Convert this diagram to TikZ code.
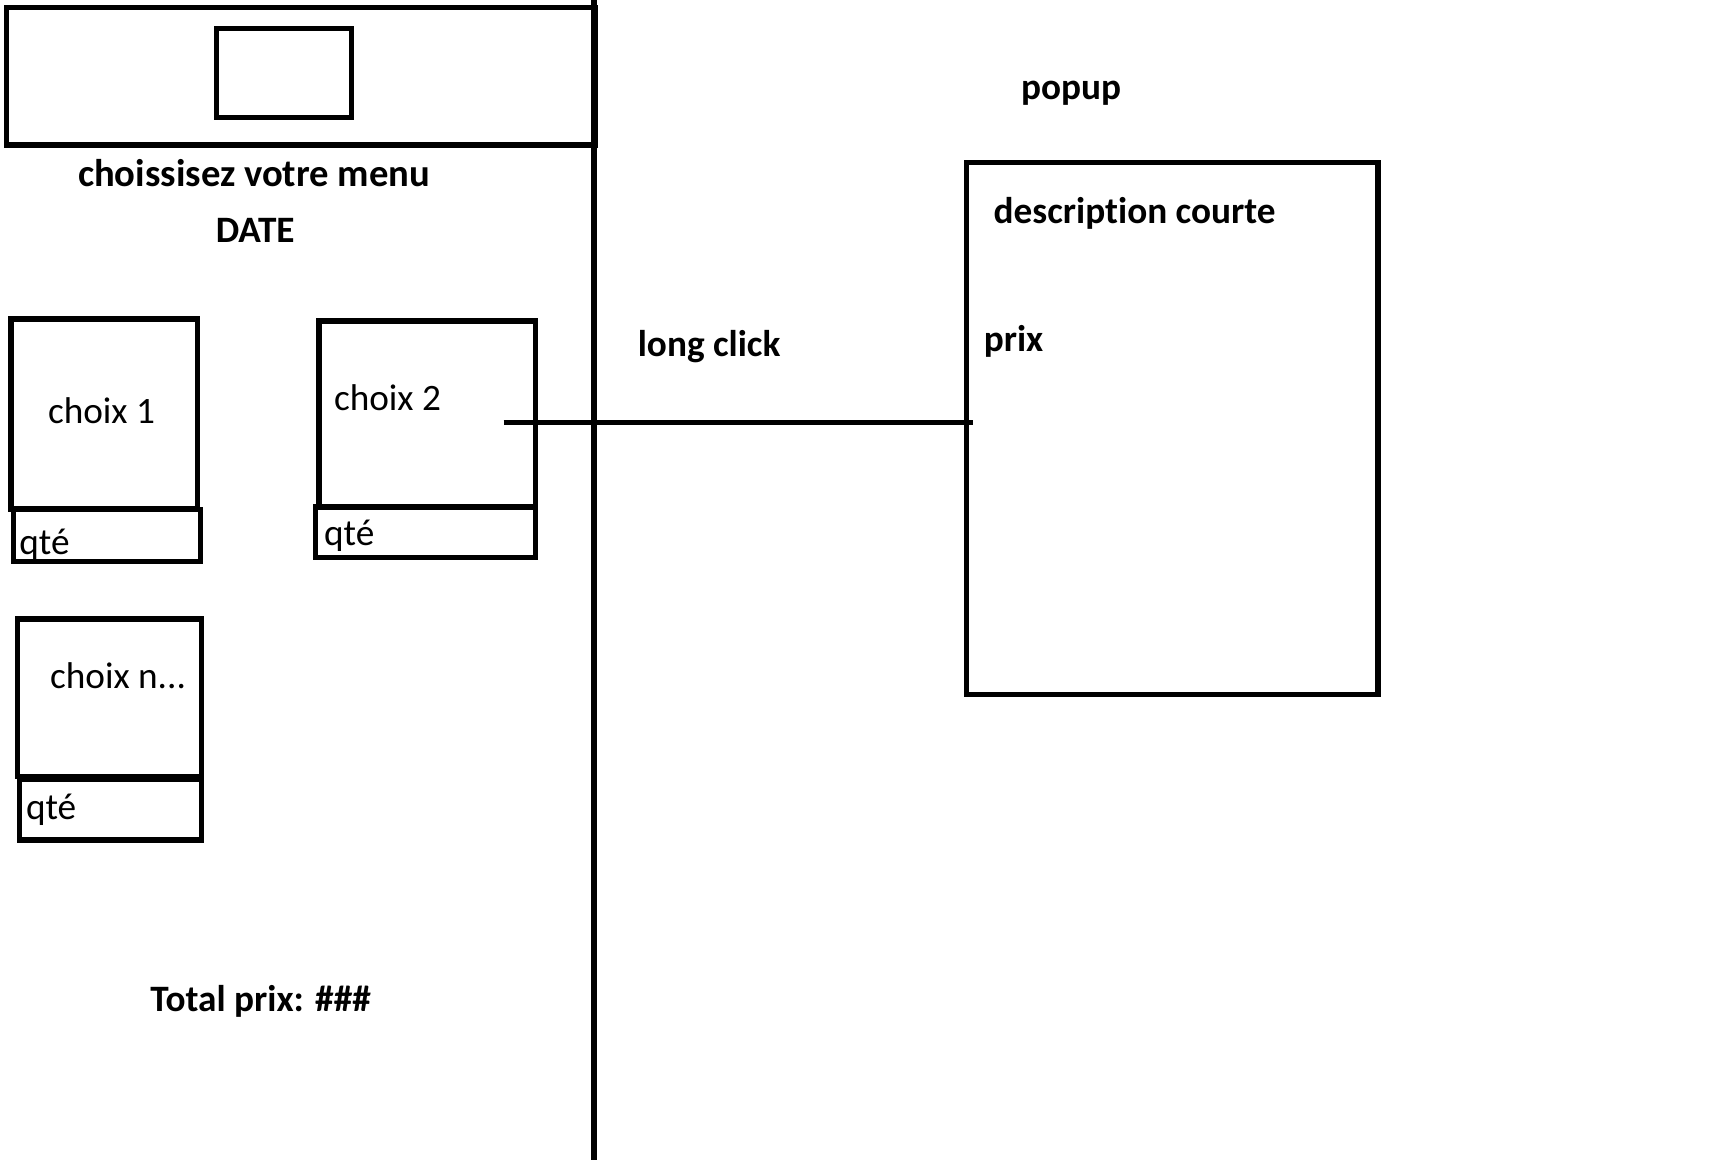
\documentclass[tikz,border=0pt]{standalone}
\usepackage{fontspec}
\setmainfont{Carlito}[Ligatures=NoCommon]
\usetikzlibrary{positioning}

\begin{document}

\begin{tikzpicture}[scale=1]

\useasboundingbox (0,0) rectangle (17.24,-11.6);

\tikzset
  {
    myBox/.style=    {draw, black, line width=1.5pt, inner sep=0pt, outer sep=0pt},
    myLine/.style=   {black, line width=1.5pt},
    myText/.style=   {inner sep=0pt, font=\fontsize{10.6}{12}\selectfont},
    myBold/.style=   {myText, font=\fontsize{10.6}{12}\selectfont\bfseries}
  }

% screen
\coordinate (sepTop) at (5.939,0);
\coordinate (sepBot) at (5.939,-11.6);
\draw[myLine] (sepTop)--(sepBot);

\node[myBox, minimum width=5.885cm, minimum height=1.374cm] (header) at (3.007,-0.764) {};
\node[myBox, minimum width=1.353cm, minimum height=0.89cm] (logo) at (2.842,-0.731) {};

\node[myBold, anchor=base, font=\fontsize{11}{12}\selectfont\bfseries] (title) at (2.541,-1.86) {choissisez votre menu};
\node[myBold, anchor=base] (date) at (2.552,-2.42) {DATE};


% choices
{
\node[myBox, minimum width=1.869cm, minimum height=1.90cm] (choixA) at (1.044,-4.14) {};
\node[myBox, minimum width=1.869cm, minimum height=0.527cm] (qteA) at (1.067,-5.355) {};
\node[myText, anchor=base west] (choixAtxt) at (0.473,-4.23) {choix 1};
\node[myText, anchor=base west] (qteAtxt) at (0.187,-5.545) {qté};

\node[myBox, minimum width=2.166cm, minimum height=1.86cm] (choixB) at (4.272,-4.14) {};
\node[myBox, minimum width=2.2cm, minimum height=0.505cm] (qteB) at (4.253,-5.32) {};
\node[myText, anchor=base west] (choixBtxt) at (3.333,-4.10) {choix 2};
\node[myText, anchor=base west] (qteBtxt) at (3.234,-5.455) {qté};

\node[myBox, minimum width=1.837cm, minimum height=1.573cm] (choixN) at (1.094,-6.976) {};
\node[myBox, minimum width=1.815cm, minimum height=0.605cm] (qteN) at (1.105,-8.098) {};
\node[myText, anchor=base west] (choixNtxt) at (0.4945,-6.885) {choix n...};
\node[myText, anchor=base west] (qteNtxt) at (0.253,-8.19) {qté};
}

\node[myBold, anchor=base] (total) at (2.606,-10.115) {Total prix: \#\#\#};


% popup
\node[myBold, anchor=base] (popupTitle) at (10.711,-0.995) {popup};
\node[myBox, minimum width=4.114cm, minimum height=5.32cm] (popup) at (11.723,-4.288) {};
\node[myBold, anchor=base west] (descr) at (9.93,-2.235) {description courte};
\node[myBold, anchor=base west] (prix) at (9.831,-3.51) {prix};

\node[myBold, anchor=base] (click) at (7.091,-3.565) {long click};

\coordinate (tap) at (5.037,-4.222);
\draw[myLine] (tap)--([xshift=0.06cm]tap -| popup.west);

\end{tikzpicture}

\end{document}
